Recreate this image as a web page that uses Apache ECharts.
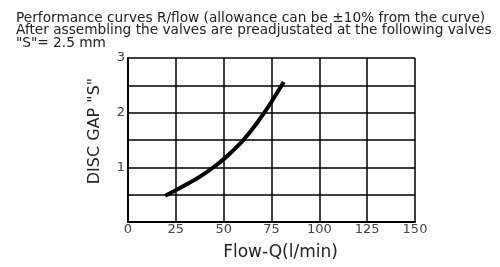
<!DOCTYPE html>
<html><head><meta charset="utf-8">
<script src="https://cdn.jsdelivr.net/npm/echarts@6/dist/echarts.min.js"></script>
<style>html,body{margin:0;padding:0;background:#fff}#c{width:500px;height:267px}</style>
</head><body><div id="c"></div>
<script>
const titleLines = [
  "Performance curves R/flow (allowance can be \u00b110% from the curve)",
  "After assembling the valves are preadjustated at the following valves",
  "\"S\"= 2.5 mm"
];
const xAxisName = "Flow-Q(l/min)";
const yAxisName = "DISC GAP \"S\"";
const flow = [19.5, 25, 30, 35, 40, 45, 50, 55, 60, 65, 70, 75, 81.4];
const gap  = [0.48, 0.58, 0.675, 0.775, 0.885, 1.01, 1.15, 1.31, 1.49, 1.70, 1.94, 2.2, 2.56];
const xTicks = [0, 25, 50, 75, 100, 125, 150];
const yTicks = [0, 1, 2, 3];

const chart = echarts.init(document.getElementById('c'));
const font = 'DejaVu Sans';
chart.setOption({
  animation: false,
  title: {
    text: titleLines.join('\n'), left: 11, top: 7,
    textStyle: {fontFamily: font, fontSize: 13.7, fontWeight: 'normal', color: '#222', lineHeight: 12.5}
  },
  grid: {left: 128, right: 85, top: 58, bottom: 45},
  xAxis: {
    type: 'value', min: 0, max: 150, interval: 25,
    name: xAxisName, nameLocation: 'middle', nameGap: 22,
    nameTextStyle: {fontFamily: font, fontSize: 17, color: '#222', padding: [0, 0, 0, 18]},
    axisLine: {lineStyle: {color: '#000', width: 2}},
    axisTick: {show: false},
    axisLabel: {fontFamily: font, fontSize: 13, color: '#444', margin: 1,
      formatter: v => xTicks.includes(v) ? String(v) : ''},
    splitLine: {lineStyle: {color: '#000', width: 1.5}}
  },
  yAxis: {
    type: 'value', min: 0, max: 3, interval: 0.5,
    name: yAxisName, nameLocation: 'middle', nameGap: 25, nameRotate: 90,
    nameTextStyle: {fontFamily: font, fontSize: 16, color: '#222', padding: [0, 0, 0, 18]},
    axisLine: {show: true, lineStyle: {color: '#000', width: 2}},
    axisTick: {show: false},
    axisLabel: {fontFamily: font, fontSize: 13, color: '#444', margin: 3,
      formatter: v => (yTicks.includes(v) && v !== 0) ? String(v) : ''},
    splitLine: {lineStyle: {color: '#000', width: 1.5}}
  },
  series: [{
    type: 'line', data: flow.map((f, i) => [f, gap[i]]), smooth: true,
    symbol: 'none', lineStyle: {color: '#000', width: 4}
  }]
});
</script></body></html>
